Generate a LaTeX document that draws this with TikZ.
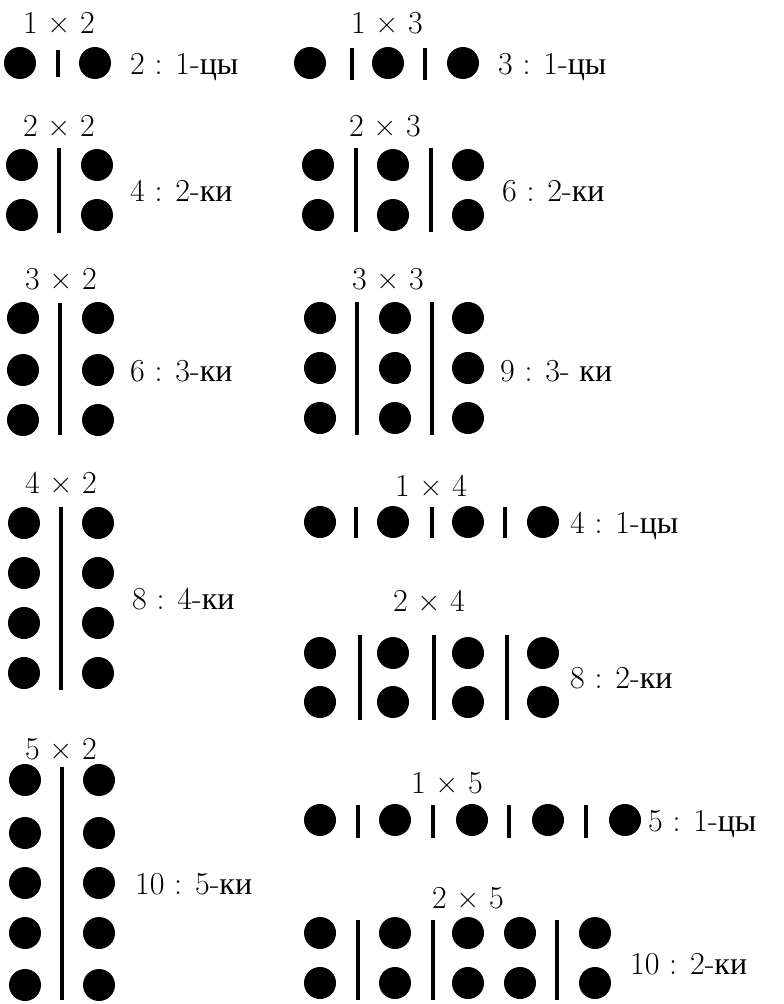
\documentclass[tikz,border=0pt]{standalone}
\usepackage{fontspec}
\newfontfamily\cyr{Liberation Serif}
\usetikzlibrary{positioning}

\begin{document}
\begin{tikzpicture}[x=1pt, y=-1pt,
    dot/.style={circle, fill=black, inner sep=0pt, minimum size=32pt},
    bar/.style={line width=3.5pt},
    title/.style={anchor=base, inner sep=0pt, font=\fontsize{32}{36}\selectfont},
    answer/.style={anchor=base west, inner sep=0pt, font=\fontsize{32}{36}\selectfont}]
    \useasboundingbox (0,0) rectangle (784,1004);

    % 1 x 2
    \node[title] (t12) at (59,33) {1 × 2};
    \foreach \x [count=\i] in {20,95} \node[dot] (d12-\i) at (\x,63) {};
    \draw[bar] (58,50) -- (58,77);
    \node[answer] (a12) at (130,74) {2 : 1-{\cyr цы}};

    % 1 x 3
    \node[title] (t13) at (387,33) {1 × 3};
    \foreach \x [count=\i] in {310,388,463} \node[dot] (d13-\i) at (\x,63) {};
    \foreach \x in {352,425} \draw[bar] (\x,48) -- (\x,80);
    \node[answer] (a13) at (498,74) {3 : 1-{\cyr цы}};

    % 2 x 2
    \node[title] (t22) at (59,136) {2 × 2};
    \foreach \x [count=\i] in {22,97}
        \foreach \y [count=\j] in {165,215} \node[dot] (d22-\j\i) at (\x,\y) {};
    \draw[bar] (59,148) -- (59,233);
    \node[answer] (a22) at (130,201) {4 : 2-{\cyr ки}};

    % 2 x 3
    \node[title] (t23) at (385,136) {2 × 3};
    \foreach \x [count=\i] in {318,393,468}
        \foreach \y [count=\j] in {165,215} \node[dot] (d23-\j\i) at (\x,\y) {};
    \foreach \x in {356,431} \draw[bar] (\x,148) -- (\x,232);
    \node[answer] (a23) at (502,201) {6 : 2-{\cyr ки}};

    % 3 x 2
    \node[title] (t32) at (61,289) {3 × 2};
    \foreach \x [count=\i] in {23,98}
        \foreach \y [count=\j] in {318,370,420} \node[dot] (d32-\j\i) at (\x,\y) {};
    \draw[bar] (60,303) -- (60,435);
    \node[answer] (a32) at (130,381) {6 : 3-{\cyr ки}};

    % 3 x 3
    \node[title] (t33) at (388,289) {3 × 3};
    \foreach \x [count=\i] in {320,395,468}
        \foreach \y [count=\j] in {318,368,418} \node[dot] (d33-\j\i) at (\x,\y) {};
    \foreach \x in {357,432} \draw[bar] (\x,302) -- (\x,435);
    \node[answer] (a33) at (500,381) {9 : 3- {\cyr ки}};

    % 4 x 2
    \node[title] (t42) at (61,493) {4 × 2};
    \foreach \x [count=\i] in {24,98}
        \foreach \y [count=\j] in {523,573,623,673} \node[dot] (d42-\j\i) at (\x,\y) {};
    \draw[bar] (61,507) -- (61,690);
    \node[answer] (a42) at (132,609) {8 : 4-{\cyr ки}};

    % 1 x 4
    \node[title] (t14) at (431,496) {1 × 4};
    \foreach \x [count=\i] in {320,393,468,543} \node[dot] (d14-\i) at (\x,522) {};
    \foreach \x in {356,432,505} \draw[bar] (\x,507) -- (\x,538);
    \node[answer] (a14) at (570,533) {4 : 1-{\cyr цы}};

    % 2 x 4
    \node[title] (t24) at (429,611) {2 × 4};
    \foreach \x [count=\i] in {320,393,468,543}
        \foreach \y [count=\j] in {653,702} \node[dot] (d24-\j\i) at (\x,\y) {};
    \foreach \x in {360,434,507} \draw[bar] (\x,635) -- (\x,720);
    \node[answer] (a24) at (570,688) {8 : 2-{\cyr ки}};

    % 5 x 2
    \node[title] (t52) at (61,759) {5 × 2};
    \foreach \x [count=\i] in {25,99}
        \foreach \y [count=\j] in {780,833,883,933,985} \node[dot] (d52-\j\i) at (\x,\y) {};
    \draw[bar] (62,767) -- (62,1000);
    \node[answer] (a52) at (135,894) {10 : 5-{\cyr ки}};

    % 1 x 5
    \node[title] (t15) at (447,793) {1 × 5};
    \foreach \x [count=\i] in {320,395,472,548,625} \node[dot] (d15-\i) at (\x,820) {};
    \foreach \x in {358,433,509,586} \draw[bar] (\x,805) -- (\x,838);
    \node[answer] (a15) at (648,831) {5 : 1-{\cyr цы}};

    % 2 x 5
    \node[title] (t25) at (468,908) {2 × 5};
    \foreach \x [count=\i] in {320,395,468,520,595}
        \foreach \y [count=\j] in {933,983} \node[dot] (d25-\j\i) at (\x,\y) {};
    \foreach \x in {358,433,557} \draw[bar] (\x,920) -- (\x,1000);
    \node[answer] (a25) at (630,974) {10 : 2-{\cyr ки}};
\end{tikzpicture}
\end{document}
